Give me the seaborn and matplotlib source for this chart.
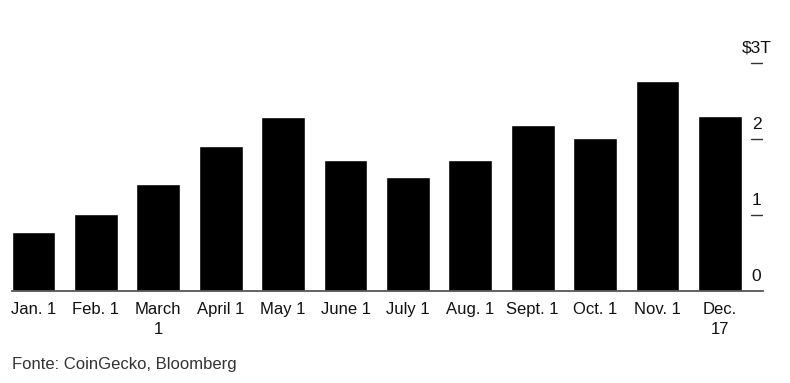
import pandas as pd
import seaborn as sns
import matplotlib.pyplot as plt
import matplotlib.transforms as mtransforms

dates = ["Jan. 1", "Feb. 1", "March\n1", "April 1", "May 1", "June 1",
         "July 1", "Aug. 1", "Sept. 1", "Oct. 1", "Nov. 1", "Dec.\n17"]
market_cap = [0.78, 1.01, 1.41, 1.91, 2.29, 1.72, 1.50, 1.72, 2.18, 2.01, 2.76, 2.30]
y_ticks = [0, 1, 2, 3]
y_labels = ["0", "1", "2", "$3T"]

df = pd.DataFrame({"date": dates, "cap": market_cap})

sns.set_style("white")
plt.rcParams["font.family"] = ["Liberation Sans", "DejaVu Sans"]

fig = plt.figure(figsize=(7.9, 3.83), dpi=100)
ax = fig.add_axes([0.0152, 0.2402, 0.9506, 0.6554])

sns.barplot(data=df, x="date", y="cap", color="black", width=0.7,
            saturation=1, ax=ax)

ax.set_xlim(-0.345, 11.69)
ax.set_ylim(0, 3.3)
for s in ["top", "right", "left"]:
    ax.spines[s].set_visible(False)
ax.spines["bottom"].set_color("#555555")
ax.spines["bottom"].set_linewidth(1.3)

ax.set_xlabel("")
ax.set_ylabel("")
ax.set_yticks([])
ax.tick_params(axis="x", length=0, pad=8, labelsize=12, colors="#111111")
ax.set_xticks(range(len(dates)))
ax.set_xticklabels(dates, linespacing=1.38)

# right side value labels sitting above short dashes
trans = mtransforms.blended_transform_factory(ax.transAxes, ax.transData)
offset = mtransforms.offset_copy(trans, fig=fig, x=0, y=10, units="dots")
for v, lab in zip(y_ticks, y_labels):
    if v > 0:
        ax.axhline(v, xmin=0.984, xmax=1.0, color="#333333", lw=1.0)
    ax.text(0.9915, v, lab, transform=offset, ha="center", va="baseline",
            fontsize=12.5, color="#111111", clip_on=False)

fig.text(0.0152, 0.047, "Fonte: CoinGecko, Bloomberg", fontsize=12,
         color="#333333", ha="left", va="center")

fig.savefig("out.png", dpi=100)
